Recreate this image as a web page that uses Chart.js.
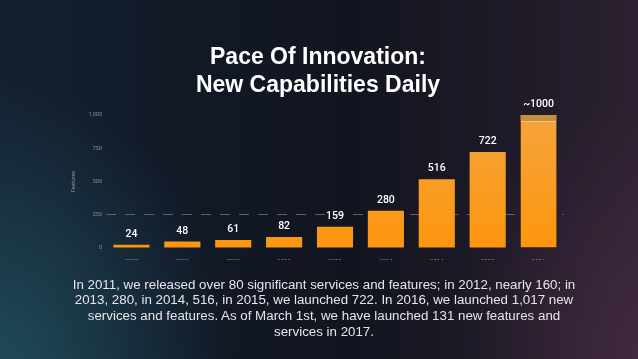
<!DOCTYPE html>
<html>
<head>
<meta charset="utf-8">
<script src="https://cdn.jsdelivr.net/npm/chart.js@4.4.1/dist/chart.umd.min.js"></script>
<style>
  html, body { margin:0; padding:0; width:638px; height:359px; overflow:hidden; }
  body {
    position:relative;
    background:
      radial-gradient(ellipse 230px 300px at 0px 380px, rgba(40,105,120,0.6), rgba(40,105,120,0) 100%),
      radial-gradient(ellipse 200px 260px at 650px 359px, rgba(85,50,75,0.55), rgba(85,50,75,0) 100%),
      linear-gradient(90deg, #142030 0%, #121a28 25%, #11151f 55%, #1f1a27 80%, #2c2130 100%);
    font-family: "Liberation Sans", Arial, sans-serif;
  }
  #c { position:absolute; left:0; top:0; }
  .title {
    position:absolute; left:0; width:636px; top:42px; text-align:center;
    color:#ffffff; font-weight:bold; font-size:23px; line-height:28px; white-space:nowrap;
  }
  .note {
    position:absolute; left:0; width:648px; top:277.5px; text-align:center;
    color:#e6e6ea; font-size:12px; line-height:15.7px; white-space:nowrap;
    transform: scaleX(1.11); transform-origin: 324px 0;
  }
</style>
</head>
<body>
<canvas id="c" width="638" height="359"></canvas>
<div class="title">Pace Of Innovation:<br>New Capabilities Daily</div>
<div class="note">In 2011, we released over 80 significant services and features; in 2012, nearly 160; in<br>2013, 280, in 2014, 516, in 2015, we launched 722. In 2016, we launched 1,017 new<br>services and features. As of March 1st, we have launched 131 new features and<br>services in 2017.</div>
<script>
const years = ['2008','2009','2010','2011','2012','2013','2014','2015','2016'];
const launched = [24, 48, 61, 82, 159, 280, 516, 722, 955];
const estimateCap = [0, 0, 0, 0, 0, 0, 0, 0, 45];
const valueLabels = ['24','48','61','82','159','280','516','722','~1000'];
const yTickLabels = {0:'0', 250:'250', 500:'500', 750:'750', 1000:'1,000'};
const yAxisTitle = 'Features';

function barGradient(ctx) {
  const ch = ctx.chart; const a = ch.chartArea;
  if (!a) return '#fa9c22';
  const g = ch.ctx.createLinearGradient(0, a.bottom, 0, a.top);
  g.addColorStop(0, '#fd960e');
  g.addColorStop(1, '#f5a43c');
  return g;
}

const valueLabelPlugin = {
  id: 'valueLabels',
  afterDatasetsDraw(chart) {
    const ctx = chart.ctx;
    const topMeta = chart.getDatasetMeta(1);
    const baseMeta = chart.getDatasetMeta(0);
    ctx.save();
    ctx.fillStyle = '#ffffff';
    ctx.font = '500 10.5px Roboto, "DejaVu Sans", sans-serif';
    ctx.textAlign = 'center';
    ctx.textBaseline = 'middle';
    valueLabels.forEach((t, i) => {
      const el = estimateCap[i] > 0 ? topMeta.data[i] : baseMeta.data[i];
      ctx.fillText(t, el.x, el.y - 10.5);
    });
    ctx.restore();
  }
};

new Chart(document.getElementById('c'), {
  type: 'bar',
  data: {
    labels: years,
    datasets: [
      { data: launched, backgroundColor: barGradient, borderColor: '#f7c480',
        borderWidth: (c) => c.dataIndex === 8 ? {top:1, left:0, right:0, bottom:0} : 0,
        borderSkipped: false },
      { data: estimateCap, backgroundColor: '#c58f3e', borderWidth: 0 }
    ]
  },
  options: {
    responsive: false,
    animation: false,
    events: [],
    layout: { padding: { left: 66, right: 74, top: 115, bottom: 99 } },
    plugins: { legend: { display: false }, tooltip: { enabled: false } },
    datasets: { bar: { categoryPercentage: 1, barPercentage: 0.71 } },
    scales: {
      x: {
        stacked: true,
        grid: { display: false },
        border: { display: false },
        ticks: { color: '#8a8f9a', font: { size: 6, family: 'Roboto' }, padding: 2, maxRotation: 0 },
        afterFit: (s) => { s.height = 12; }
      },
      y: {
        stacked: true,
        min: 0, max: 1000,
        afterFit: (s) => { s.width = 40; },
        border: { display: false, dash: [10, 9] },
        grid: {
          drawTicks: false,
          color: (c) => c.tick && c.tick.value === 250 ? '#5b606c' : 'rgba(0,0,0,0)',
          lineWidth: 1
        },
        ticks: {
          stepSize: 250, color: '#8a8f9a', padding: 4,
          font: { size: 5.5, family: 'Roboto' },
          callback: (v) => yTickLabels[v]
        },
        title: { display: true, text: yAxisTitle, color: '#8a8f9a',
          font: { size: 5.5, family: 'Roboto' }, padding: { top: 4, bottom: 0 } }
      }
    }
  },
  plugins: [valueLabelPlugin]
});
</script>
</body>
</html>
